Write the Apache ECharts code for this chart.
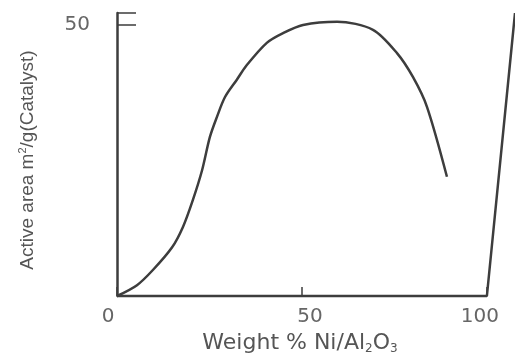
<!DOCTYPE html>
<html>
<head>
<meta charset="utf-8">
<script src="https://cdn.jsdelivr.net/npm/echarts@6/dist/echarts.min.js"></script>
<style>
html,body{margin:0;padding:0;background:#fff;}
#c{width:515px;height:354px;}
</style>
</head>
<body>
<div id="c"></div>
<script>
// Data
var weightPct = [0, 5.4, 9.7, 14.9, 17.8, 20.5, 23.0, 25.1, 27.0, 29.2, 32.4, 35.1, 40.5, 44.9, 50.3, 59.5, 69.2, 75.7, 80.0, 83.8, 89.2];
var activeArea = [0, 2.0, 4.8, 9.0, 12.7, 17.7, 23.2, 29.3, 33.0, 36.7, 39.9, 42.6, 46.7, 48.5, 50.0, 50.6, 49.1, 44.8, 40.4, 34.9, 22.0];
// Plot frame: bottom axis and the slanted right-hand edge of the scan
var frameX = [0, 100, 107.6];
var frameY = [0, 0, 52.2];
var xTicks = [0, 50, 100];
var yTicks = [50];

var curve = weightPct.map(function (x, i) { return [x, activeArea[i]]; });
var frame = frameX.map(function (x, i) { return [x, frameY[i]]; });

var ink = '#3d3d3d';
var textCol = '#666';
var lab = { color: textCol, fontFamily: 'DejaVu Sans', fontSize: 20 };

var chart = echarts.init(document.getElementById('c'));
chart.setOption({
  backgroundColor: '#fff',
  animation: false,
  grid: { left: 117, right: 0, top: 13, bottom: 58, containLabel: false, outerBoundsMode: 'none' },
  xAxis: {
    type: 'value', min: 0, max: 107.6, interval: 50,
    splitLine: { show: false },
    axisLine: { show: false },
    axisTick: { show: true, inside: true, length: 9, customValues: xTicks, lineStyle: { color: ink, width: 1.5 } },
    axisLabel: {
      margin: 11, color: textCol, fontFamily: 'DejaVu Sans', fontSize: 20,
      customValues: xTicks,
      formatter: function (v) {
        if (xTicks.indexOf(v) < 0) return '';
        if (v === 0) return '{l|' + v + '}';
        if (v === 50) return '{m|' + v + '}';
        return '{r|' + v + '}';
      },
      rich: {
        l: Object.assign({ padding: [0, 18, 0, 0] }, lab),
        m: Object.assign({ padding: [0, 0, 0, 16] }, lab),
        r: Object.assign({ padding: [0, 14, 0, 0] }, lab)
      }
    },
    name: '{t|Weight % Ni/Al}{s|2}{t|O}{s|3}{g|}',
    nameLocation: 'middle',
    nameGap: 33,
    nameTextStyle: {
      rich: {
        t: { fontFamily: 'DejaVu Sans', fontSize: 22, color: '#555' },
        s: { fontFamily: 'DejaVu Sans', fontSize: 12, color: '#555', verticalAlign: 'bottom', padding: [12, 0, 0, 0] },
        g: { width: 32, fontSize: 22 }
      }
    }
  },
  yAxis: {
    type: 'value', min: 0, max: 52.2, interval: 50,
    splitLine: { show: false },
    axisLine: { show: true, lineStyle: { color: ink, width: 2.5 } },
    axisTick: { inside: true, length: 19, lineStyle: { color: ink, width: 1.5 } },
    axisLabel: {
      margin: 27, color: textCol, fontFamily: 'DejaVu Sans', fontSize: 20,
      formatter: function (v) { return yTicks.indexOf(v) >= 0 ? String(v) : ''; }
    },
    name: '{t|Active area m}{p|2}{t|/g(Catalyst)}{g|}',
    nameLocation: 'middle',
    nameGap: 79,
    nameTextStyle: {
      rich: {
        t: { fontFamily: 'Liberation Sans', fontSize: 19, color: '#555' },
        p: { fontFamily: 'Liberation Sans', fontSize: 11, color: '#555', verticalAlign: 'top', padding: [0, 0, 10, 0] },
        g: { width: 11, fontSize: 19 }
      }
    }
  },
  series: [
    {
      type: 'line', data: curve, smooth: 0.3, symbol: 'none', silent: true,
      lineStyle: { color: ink, width: 2.5 }
    },
    {
      type: 'line', data: frame, symbol: 'none', silent: true, clip: false,
      lineStyle: { color: ink, width: 2.5 }
    }
  ]
});
</script>
</body>
</html>
